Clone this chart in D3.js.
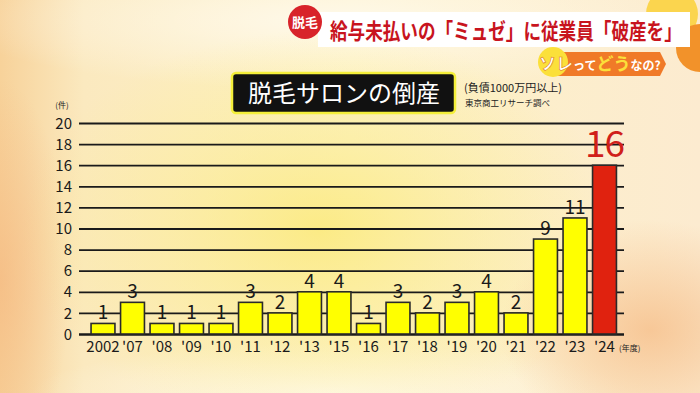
<!DOCTYPE html>
<html><head><meta charset="utf-8">
<script src="https://cdn.jsdelivr.net/npm/d3@7"></script>
<style>
html,body{margin:0;padding:0;background:#fdf3df;}
svg{display:block;}
</style></head>
<body>
<svg id="c" width="700" height="393"></svg>
<script>
const categories = ["2002","'07","'08","'09","'10","'11","'12","'13","'15","'16","'17","'18","'19","'20","'21","'22","'23","'24"];
const values = [1,3,1,1,1,3,2,4,4,1,3,2,3,4,2,9,11,16];
const yTicks = [0,2,4,6,8,10,12,14,16,18,20];
const highlightIndex = 17;
const chartTitle = "脱毛サロンの倒産";
const noteLine1 = "(負債1000万円以上)";
const noteLine2 = "東京商工リサーチ調べ";
const yUnit = "(件)";
const xUnit = "(年度)";
const headline = "給与未払いの「ミュゼ」に従業員「破産を」";
const badge = "脱毛";
const tagText = ["ソレ","って","どう","なの?"];

const svg = d3.select("#c");
const W = 700, H = 393;
const defs = svg.append("defs");

// background
const bg = defs.append("linearGradient").attr("id","bg").attr("x1","0").attr("x2","1").attr("y1","0").attr("y2","0");
bg.append("stop").attr("offset","0").attr("stop-color","#f7d29a");
bg.append("stop").attr("offset","0.12").attr("stop-color","#fbe9bf");
bg.append("stop").attr("offset","0.5").attr("stop-color","#fdf2c6");
bg.append("stop").attr("offset","1").attr("stop-color","#fcebd0");
svg.append("rect").attr("width",W).attr("height",H).attr("fill","url(#bg)");

const wht = defs.append("radialGradient").attr("id","wht");
wht.append("stop").attr("offset","0").attr("stop-color","#fffaf0").attr("stop-opacity",0.85);
wht.append("stop").attr("offset","1").attr("stop-color","#fffaf0").attr("stop-opacity",0);
svg.append("ellipse").attr("cx",330).attr("cy",20).attr("rx",380).attr("ry",70).attr("fill","url(#wht)");
svg.append("ellipse").attr("cx",330).attr("cy",393).attr("rx",300).attr("ry",50).attr("fill","url(#wht)");

const glow = defs.append("radialGradient").attr("id","glow");
glow.append("stop").attr("offset","0").attr("stop-color","#fbe86a").attr("stop-opacity",0.7);
glow.append("stop").attr("offset","0.6").attr("stop-color","#fbec8a").attr("stop-opacity",0.35);
glow.append("stop").attr("offset","1").attr("stop-color","#fbec8a").attr("stop-opacity",0);
svg.append("ellipse").attr("cx",320).attr("cy",230).attr("rx",300).attr("ry",200).attr("fill","url(#glow)");

const orng = defs.append("radialGradient").attr("id","orng");
orng.append("stop").attr("offset","0").attr("stop-color","#f5b880").attr("stop-opacity",0.7);
orng.append("stop").attr("offset","1").attr("stop-color","#f5b880").attr("stop-opacity",0);
svg.append("ellipse").attr("cx",650).attr("cy",330).attr("rx",150).attr("ry",110).attr("fill","url(#orng)");
svg.append("ellipse").attr("cx",0).attr("cy",280).attr("rx",70).attr("ry",200).attr("fill","url(#orng)");

// top-right decorative circles
svg.append("circle").attr("cx",672).attr("cy",14).attr("r",26).attr("fill","#fbd54e");
svg.append("circle").attr("cx",700).attr("cy",48).attr("r",24).attr("fill","#f2922a");

// headline banner
svg.append("rect").attr("x",318).attr("y",12).attr("width",372).attr("height",35).attr("fill","#ffffff");
svg.append("text").attr("transform","translate(330,39) scale(0.8,1)").attr("font-family","'Noto Sans CJK JP'").attr("font-weight",700)
  .attr("font-size",22).attr("fill","#c8141e").text(headline);
svg.append("circle").attr("cx",305).attr("cy",22).attr("r",17).attr("fill","#d8232a");
svg.append("text").attr("x",305).attr("y",27).attr("text-anchor","middle").attr("font-family","'Noto Sans CJK JP'")
  .attr("font-weight",700).attr("font-size",13).attr("fill","#fff").text(badge);

// tag
svg.append("path").attr("d","M548,52 H660 L666,64 L660,76 H548 Z").attr("fill","#f07a28");
svg.append("circle").attr("cx",553).attr("cy",62).attr("r",15).attr("fill","#fbe03a");
const tag = svg.append("text").attr("x",539).attr("y",70).attr("font-family","'Noto Sans CJK JP'").attr("font-weight",700);
tag.append("tspan").attr("font-size",17).attr("fill","#ffffff").attr("stroke","#e07a10").attr("stroke-width",0.6).text(tagText[0]);
tag.append("tspan").attr("font-size",12).attr("fill","#ffffff").text(tagText[1]);
tag.append("tspan").attr("font-size",17).attr("fill","#fbe03a").text(tagText[2]);
tag.append("tspan").attr("font-size",12).attr("fill","#ffffff").text(tagText[3]);

// title box
svg.append("rect").attr("x",232).attr("y",73).attr("width",223).attr("height",40).attr("rx",4)
  .attr("fill","#111").attr("stroke","#f4ef3a").attr("stroke-width",2.5);
svg.append("text").attr("x",344).attr("y",102).attr("text-anchor","middle").attr("font-family","'Noto Sans CJK JP'")
  .attr("font-size",24).attr("fill","#fff").text(chartTitle);
svg.append("text").attr("x",464).attr("y",92).attr("font-family","'Noto Sans CJK JP'").attr("font-size",11).attr("fill","#222").text(noteLine1);
svg.append("text").attr("x",465).attr("y",106).attr("font-family","'Noto Sans CJK JP'").attr("font-size",8.5).attr("fill","#222").text(noteLine2);

// scales
const y = d3.scaleLinear().domain([0,20]).range([334,123]);
const x = d3.scaleBand().domain(categories).range([88.25,619.25]).paddingInner(0.19).paddingOuter(0.095);
const gridX0 = 79, gridX1 = 624;

// gridlines via axis
const yAxis = d3.axisLeft(y).tickValues(yTicks).tickSize(-(gridX1-gridX0)).tickPadding(7).tickFormat(d3.format("d"));
const gy = svg.append("g").attr("transform",`translate(${gridX0},0)`).call(yAxis);
gy.select(".domain").remove();
gy.selectAll(".tick line").attr("stroke","#1a1a1a").attr("stroke-width",d=>d===0?2.5:1.8);
gy.selectAll(".tick text").attr("font-family","'Noto Sans CJK JP'").attr("font-size",15).attr("fill","#1a1a1a").attr("dy","0.34em");

svg.append("text").attr("x",62).attr("y",108).attr("text-anchor","middle").attr("font-family","'Noto Sans CJK JP'")
  .attr("font-size",8).attr("fill","#222").text(yUnit);

// bars
svg.append("g").selectAll("rect").data(values).join("rect")
  .attr("x",(d,i)=>x(categories[i]))
  .attr("y",d=>y(d))
  .attr("width",x.bandwidth())
  .attr("height",d=>y(0)-y(d))
  .attr("fill",(d,i)=>i===highlightIndex?"#e0220f":"#ffff00")
  .attr("stroke","#2a2a2a").attr("stroke-width",1.6);

// value labels
svg.append("g").selectAll("text").data(values).join("text")
  .attr("x",(d,i)=>x(categories[i])+x.bandwidth()/2)
  .attr("y",(d,i)=>y(d)-(i===highlightIndex?8:4))
  .attr("text-anchor","middle")
  .attr("font-family","'Noto Sans CJK JP'")
  .attr("font-size",(d,i)=>i===highlightIndex?37:19)
  .attr("letter-spacing",(d,i)=>i===highlightIndex?-1:0)
  .attr("fill",(d,i)=>i===highlightIndex?"#d0201a":"#1a1a1a")
  .text(d=>d);

// x axis labels
const xAxis = d3.axisBottom(x).tickSize(0).tickPadding(5);
const gx = svg.append("g").attr("transform","translate(0,336)").call(xAxis);
gx.select(".domain").remove();
gx.selectAll(".tick text").attr("font-family","'Noto Sans CJK JP'").attr("font-size",15).attr("fill","#1a1a1a");
svg.append("text").attr("x",619).attr("y",351).attr("font-family","'Noto Sans CJK JP'").attr("font-size",8).attr("fill","#222").text(xUnit);
</script>
</body></html>
